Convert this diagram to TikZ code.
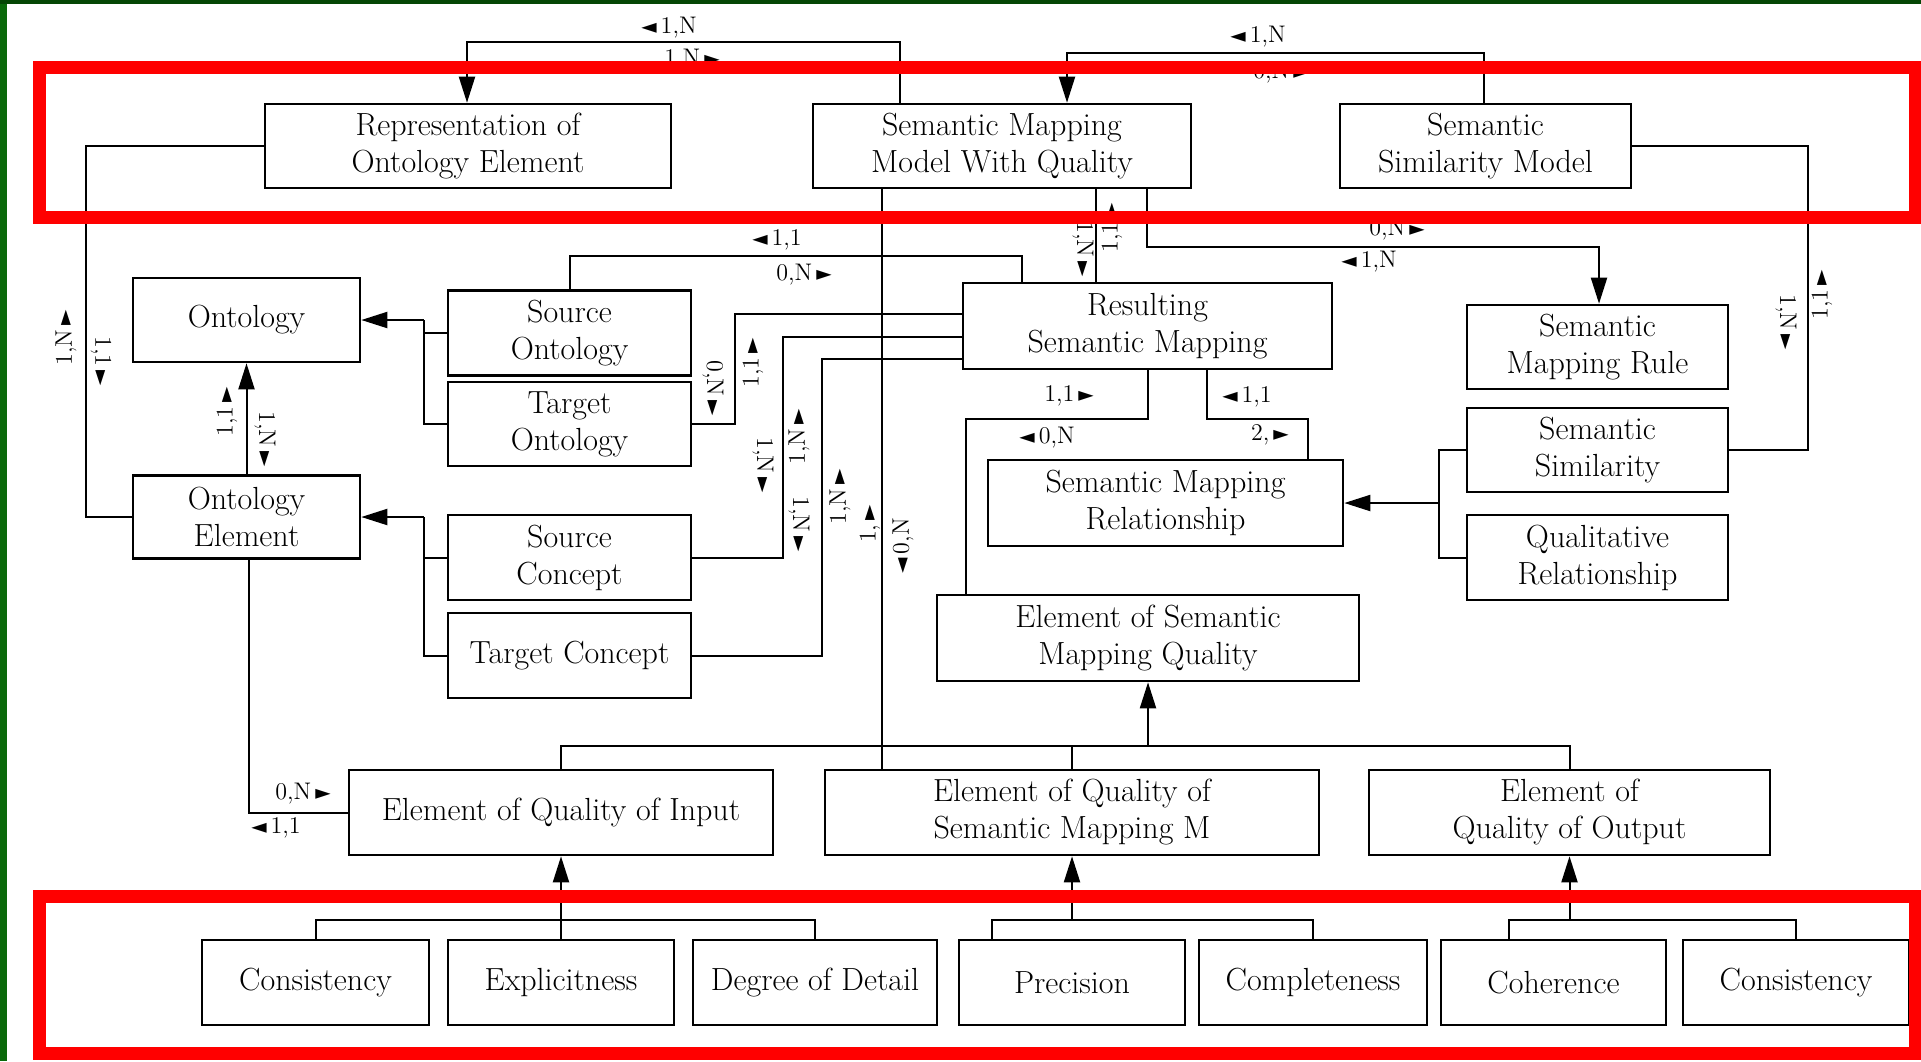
\documentclass[tikz,border=0pt]{standalone}
\usepackage{fontspec}
\newfontfamily\symfont{DejaVu Sans}
\usetikzlibrary{arrows.meta}
\newcommand\triL{{\symfont\fontsize{10}{10}\selectfont ◄}}
\newcommand\triR{{\symfont\fontsize{10}{10}\selectfont ►}}
\definecolor{frameL}{RGB}{10,105,10}
\definecolor{frameT}{RGB}{5,70,5}
\definecolor{hilite}{RGB}{255,0,0}
\begin{document}
\begin{tikzpicture}[x=0.5pt,y=-0.5pt,
  box/.style={draw, line width=1.3pt, align=center, inner sep=0pt,
    font=\fontsize{16}{18.5}\selectfont},
  sz/.style 2 args={minimum width=#1*0.5pt, minimum height=#2*0.5pt},
  wire/.style={line width=1pt},
  arr/.style={line width=1pt, -{Triangle[length=13pt,width=8pt]}},
  lab/.style={inner sep=0pt, font=\fontsize{12}{12}\selectfont},
  hl/.style={draw=hilite, line width=6.5pt}
]
\useasboundingbox (0,0) rectangle (1921,1061);
\fill[white] (0,0) rectangle (1921,1061);

% ---------- boxes ----------
\node[box, sz={406}{84}] (rep)  at (468,146)   {Representation of\\Ontology Element};
\node[box, sz={378}{84}] (smmq) at (1002,146)  {Semantic Mapping\\Model With Quality};
\node[box, sz={291}{84}] (ssm)  at (1485.5,146){Semantic\\Similarity Model};
\node[box, sz={227}{84}] (ont)  at (246.5,320) {Ontology};
\node[box, sz={243}{85}] (so)   at (569.5,333) {Source\\Ontology};
\node[box, sz={243}{84}] (to)   at (569.5,424) {Target\\Ontology};
\node[box, sz={227}{83}] (oe)   at (246.5,517) {Ontology\\Element};
\node[box, sz={243}{85}] (sc)   at (569.5,557.5) {Source\\Concept};
\node[box, sz={243}{85}] (tc)   at (569.5,655.5) {Target Concept};
\node[box, sz={369}{86}] (rsm)  at (1147.5,326) {Resulting\\Semantic Mapping};
\node[box, sz={261}{84}] (smr)  at (1597.5,347) {Semantic\\Mapping Rule};
\node[box, sz={355}{86}] (smrel) at (1165.5,503) {Semantic Mapping\\Relationship};
\node[box, sz={261}{84}] (ss)   at (1597.5,450) {Semantic\\Similarity};
\node[box, sz={261}{85}] (qr)   at (1597.5,557.5) {Qualitative\\Relationship};
\node[box, sz={422}{86}] (esmq) at (1148,638)  {Element of Semantic\\Mapping Quality};
\node[box, sz={424}{85}] (eqi)  at (561,812.5) {Element of Quality of Input};
\node[box, sz={494}{85}] (eqsm) at (1072,812.5) {Element of Quality of\\Semantic Mapping M};
\node[box, sz={401}{85}] (eqo)  at (1569.5,812.5) {Element of\\Quality of Output};
\node[box, sz={227}{85}] (cs1)  at (315.5,982.5) {Consistency};
\node[box, sz={226}{85}] (ex)   at (561,982.5)   {Explicitness};
\node[box, sz={244}{85}] (dd)   at (815,982.5)   {Degree of Detail};
\node[box, sz={226}{85}] (pr)   at (1072,982.5)  {Precision};
\node[box, sz={228}{85}] (cp)   at (1313,982.5)  {Completeness};
\node[box, sz={225}{85}] (ch)   at (1553.5,982.5){Coherence};
\node[box, sz={226}{85}] (cs2)  at (1796,982.5)  {Consistency};

% ---------- bend points ----------
\coordinate (a1) at (900,42);   \coordinate (a2) at (467,42);
\coordinate (b1) at (1484,53);  \coordinate (b2) at (1067,53);
\coordinate (c1) at (86,146);   \coordinate (c2) at (86,517);
\coordinate (e1) at (424,320);  \coordinate (f1) at (424,517);
\coordinate (g1) at (570,256);  \coordinate (g2) at (1022,256);
\coordinate (h1) at (735,314);  \coordinate (i1) at (783,337);
\coordinate (j1) at (822,359);  \coordinate (k1) at (882,0);
\coordinate (l0) at (1096,0);
\coordinate (m1) at (1147,247); \coordinate (m2) at (1599,247);
\coordinate (n1) at (1148,419); \coordinate (n2) at (966,419);
\coordinate (o1) at (1207,419); \coordinate (o2) at (1308,419);
\coordinate (p1) at (1439,503); \coordinate (q1) at (1808,146);
\coordinate (r1) at (249,813);  \coordinate (s1) at (0,746);
\coordinate (t1) at (0,920);    \coordinate (t2) at (992,920);
\coordinate (t3) at (1509,920);

% ---------- connectors ----------
\draw[arr] (smmq.north -| a1) -- (a1) -- (a2) -- (rep.north -| a2);
\draw[arr] (ssm.north -| b1) -- (b1) -- (b2) -- (smmq.north -| b2);
\draw[wire] (rep.west |- c1) -- (c1) -- (c2) -- (oe.west |- c2);
\draw[arr] (oe.north) -- (ont.south);
\draw[wire] (so.west) -- (so.west -| e1);
\draw[wire] (to.west) -- (to.west -| e1) -- (e1);
\draw[arr] (e1) -- (ont.east |- e1);
\draw[wire] (sc.west) -- (sc.west -| f1);
\draw[wire] (tc.west) -- (tc.west -| f1) -- (f1);
\draw[arr] (f1) -- (oe.east |- f1);
\draw[wire] (so.north -| g1) -- (g1) -- (g2) -- (rsm.north -| g2);
\draw[wire] (to.east) -| (h1) -- (rsm.west |- h1);
\draw[wire] (sc.east) -| (i1) -- (rsm.west |- i1);
\draw[wire] (tc.east) -| (j1) -- (rsm.west |- j1);
\draw[wire] (smmq.south -| k1) -- (eqsm.north -| k1);
\draw[wire] (smmq.south -| l0) -- (rsm.north -| l0);
\draw[arr] (smmq.south -| m1) -- (m1) -- (m2) -- (smr.north -| m2);
\draw[wire] (rsm.south -| n1) -- (n1) -- (n2) -- (esmq.north -| n2);
\draw[wire] (rsm.south -| o1) -- (o1) -- (o2) -- (smrel.north -| o2);
\draw[wire] (ss.west) -| (p1);
\draw[wire] (qr.west) -| (p1);
\draw[arr] (p1) -- (smrel.east |- p1);
\draw[wire] (ss.east) -| (q1) -- (ssm.east);
\draw[wire] (oe.south -| r1) -- (r1) -- (eqi.west |- r1);
\draw[wire] (eqi.north) -- (eqi.north |- s1) -- (eqo.north |- s1) -- (eqo.north);
\draw[wire] (eqsm.north) -- (eqsm.north |- s1);
\draw[arr] (esmq.south |- s1) -- (esmq.south);
\draw[wire] (cs1.north) -- (cs1.north |- t1) -- (dd.north |- t1) -- (dd.north);
\draw[arr] (ex.north) -- (eqi.south);
\draw[wire] (pr.north -| t2) -- (t2) -- (cp.north |- t2) -- (cp.north);
\draw[arr] (eqsm.south |- t1) -- (eqsm.south);
\draw[wire] (ch.north -| t3) -- (t3) -- (cs2.north |- t3) -- (cs2.north);
\draw[arr] (eqo.south |- t1) -- (eqo.south);

% ---------- cardinality labels ----------
\node[lab] (L1)  at (669,28)   {\triL\,1,N};
\node[lab] (L2)  at (692,60)   {1,N\,\triR};
\node[lab] (L3)  at (1258,37)  {\triL\,1,N};
\node[lab] (L4)  at (1281,73)  {0,N\,\triR};
\node[lab] (L5)  at (777,240)  {\triL\,1,1};
\node[lab] (L6)  at (804,275)  {0,N\,\triR};
\node[lab] (L7)  at (1397,230) {0,N\,\triR};
\node[lab] (L8)  at (1369,262) {\triL\,1,N};
\node[lab] (L9)  at (1069,396) {1,1\,\triR};
\node[lab] (L10) at (1047,438) {\triL\,0,N};
\node[lab] (L11) at (1247,397) {\triL\,1,1};
\node[lab] (L12) at (1270,435) {2,\,\triR};
\node[lab] (L13) at (303,794)  {0,N\,\triR};
\node[lab] (L14) at (276,828)  {\triL\,1,1};
\node[lab, rotate=90]  (V1)  at (66,338)   {1,N\,\triR};
\node[lab, rotate=-90] (V2)  at (101,361)  {1,1\,\triR};
\node[lab, rotate=90]  (V3)  at (227,412)  {1,1\,\triR};
\node[lab, rotate=-90] (V4)  at (265,439)  {1,N\,\triR};
\node[lab, rotate=-90] (V5)  at (713,388)  {0,N\,\triR};
\node[lab, rotate=90]  (V6)  at (753,363)  {1,1\,\triR};
\node[lab, rotate=-90] (V7)  at (763,465)  {1,N\,\triR};
\node[lab, rotate=90]  (V8)  at (799,437)  {1,N\,\triR};
\node[lab, rotate=-90] (V9)  at (799,524)  {1,N\,\triR};
\node[lab, rotate=90]  (V10) at (840,497)  {1,N\,\triR};
\node[lab, rotate=90]  (V11) at (870,524)  {1,\,\triR};
\node[lab, rotate=90]  (V12) at (903,546)  {\triL\,0,N};
\node[lab, rotate=-90] (V13) at (1083,249) {1,N\,\triR};
\node[lab, rotate=90]  (V14) at (1112,228) {1,1\,\triR};
\node[lab, rotate=-90] (V15) at (1786,322) {1,N\,\triR};
\node[lab, rotate=90]  (V16) at (1822,295) {1,1\,\triR};

% ---------- highlight frames and border ----------
\draw[hl] (39,67.5) rectangle (1915,217);
\draw[hl] (39,896.5) rectangle (1915,1053.5);
\fill[frameL] (0,0) rectangle (7,1061);
\fill[frameT] (0,0) rectangle (1921,4);
\end{tikzpicture}
\end{document}
